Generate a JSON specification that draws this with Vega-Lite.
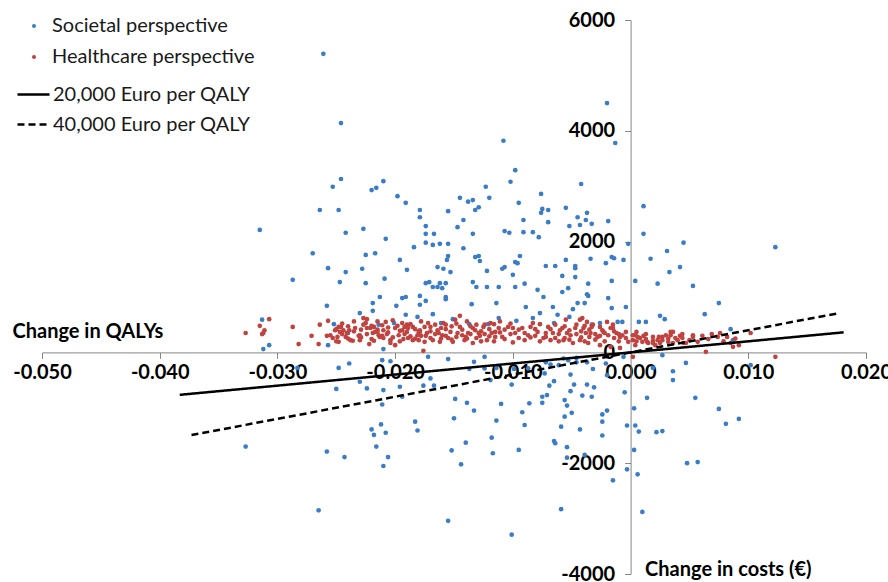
{
"$schema": "https://vega.github.io/schema/vega-lite/v6.json",
"width": 824, "height": 554,
"autosize": {"type": "none"},
"padding": {"left": 42, "top": 20, "right": 22, "bottom": 8},
"background": "white",
"config": {"view": {"stroke": null}, "font": "Lato",
 "locale": {"number": {"decimal": ".", "thousands": ",", "grouping": [3], "currency": ["", ""], "minus": "-"}}},
"datasets": {
"societal": [
{"qaly":-0.0261,"cost":5390},{"qaly":-0.0020,"cost":4500},{"qaly":-0.0013,"cost":3780},{"qaly":-0.0246,"cost":4140},{"qaly":-0.0108,"cost":3820},{"qaly":-0.0098,"cost":3290},{"qaly":-0.0246,"cost":3130},{"qaly":-0.0253,"cost":2990},{"qaly":-0.0210,"cost":3090},{"qaly":-0.0220,"cost":2930},{"qaly":-0.0216,"cost":2970},{"qaly":-0.0198,"cost":2820},{"qaly":-0.0191,"cost":2700},{"qaly":-0.0264,"cost":2570},{"qaly":-0.0248,"cost":2570},{"qaly":-0.0179,"cost":2570},{"qaly":-0.0179,"cost":2440},{"qaly":-0.0155,"cost":2550},{"qaly":-0.0315,"cost":2210},{"qaly":-0.0242,"cost":2160},{"qaly":-0.0227,"cost":2230},{"qaly":-0.0174,"cost":2280},{"qaly":-0.0174,"cost":2140},{"qaly":-0.0167,"cost":2140},{"qaly":-0.0208,"cost":2050},{"qaly":-0.0174,"cost":1980},{"qaly":-0.0168,"cost":1940},{"qaly":-0.0162,"cost":1960},{"qaly":-0.0155,"cost":1960},{"qaly":-0.0270,"cost":1790},{"qaly":-0.0225,"cost":1760},{"qaly":-0.0217,"cost":1790},{"qaly":-0.0184,"cost":1900},{"qaly":-0.0196,"cost":1670},{"qaly":-0.0155,"cost":1740},{"qaly":-0.0156,"cost":1670},{"qaly":-0.0257,"cost":1520},{"qaly":-0.0242,"cost":1450},{"qaly":-0.0228,"cost":1510},{"qaly":-0.0190,"cost":1490},{"qaly":-0.0164,"cost":1540},{"qaly":-0.0159,"cost":1510},{"qaly":-0.0287,"cost":1310},{"qaly":-0.0247,"cost":1270},{"qaly":-0.0225,"cost":1250},{"qaly":-0.0209,"cost":1330},{"qaly":-0.0174,"cost":1250},{"qaly":-0.0171,"cost":1270},{"qaly":-0.0168,"cost":1180},{"qaly":-0.0164,"cost":1180},{"qaly":-0.0162,"cost":1250},{"qaly":-0.0157,"cost":1250},{"qaly":-0.0160,"cost":1160},{"qaly":-0.0213,"cost":1000},{"qaly":-0.0194,"cost":980},{"qaly":-0.0179,"cost":1020},{"qaly":-0.0179,"cost":860},{"qaly":-0.0174,"cost":930},{"qaly":-0.0157,"cost":960},{"qaly":-0.0258,"cost":840},{"qaly":-0.0219,"cost":890},{"qaly":-0.0199,"cost":840},{"qaly":-0.0219,"cost":750},{"qaly":-0.0230,"cost":710},{"qaly":-0.0191,"cost":680},{"qaly":-0.0181,"cost":640},{"qaly":-0.0168,"cost":690},{"qaly":-0.0313,"cost":590},{"qaly":-0.0252,"cost":510},{"qaly":-0.0201,"cost":530},{"qaly":-0.0214,"cost":500},{"qaly":-0.0161,"cost":530},{"qaly":-0.0307,"cost":130},{"qaly":-0.0312,"cost":60},
{"qaly":-0.0102,"cost":3080},{"qaly":-0.0123,"cost":2990},{"qaly":-0.0120,"cost":2790},{"qaly":-0.0042,"cost":3040},{"qaly":-0.0145,"cost":2790},{"qaly":-0.0134,"cost":2750},{"qaly":-0.0138,"cost":2720},{"qaly":-0.0076,"cost":2860},{"qaly":-0.0095,"cost":2700},{"qaly":-0.0129,"cost":2620},{"qaly":-0.0132,"cost":2570},{"qaly":-0.0075,"cost":2590},{"qaly":-0.0076,"cost":2520},{"qaly":-0.0070,"cost":2570},{"qaly":-0.0055,"cost":2610},{"qaly":-0.0037,"cost":2520},{"qaly":-0.0045,"cost":2440},{"qaly":-0.0038,"cost":2390},{"qaly":-0.0043,"cost":2300},{"qaly":-0.0033,"cost":2320},{"qaly":-0.0019,"cost":2370},{"qaly":-0.0142,"cost":2390},{"qaly":-0.0147,"cost":2260},{"qaly":-0.0070,"cost":2350},{"qaly":-0.0091,"cost":2390},{"qaly":-0.0107,"cost":2190},{"qaly":-0.0103,"cost":2160},{"qaly":-0.0091,"cost":2170},{"qaly":-0.0083,"cost":2170},{"qaly":-0.0078,"cost":2080},{"qaly":-0.0052,"cost":2280},{"qaly":-0.0134,"cost":2140},{"qaly":-0.0142,"cost":1880},{"qaly":-0.0122,"cost":1470},{"qaly":-0.0153,"cost":1450},{"qaly":-0.0132,"cost":1720},{"qaly":-0.0129,"cost":1740},{"qaly":-0.0128,"cost":1650},{"qaly":-0.0109,"cost":1510},{"qaly":-0.0107,"cost":1540},{"qaly":-0.0098,"cost":1630},{"qaly":-0.0096,"cost":1610},{"qaly":-0.0094,"cost":1740},{"qaly":-0.0100,"cost":1400},{"qaly":-0.0072,"cost":1560},{"qaly":-0.0064,"cost":1560},{"qaly":-0.0055,"cost":1670},{"qaly":-0.0047,"cost":1560},{"qaly":-0.0034,"cost":1690},{"qaly":-0.0021,"cost":1610},{"qaly":-0.0016,"cost":1720},{"qaly":-0.0014,"cost":1700},{"qaly":-0.0006,"cost":1670},{"qaly":-0.0002,"cost":1960},{"qaly":0.0011,"cost":2140},{"qaly":0.0017,"cost":1690},{"qaly":0.0031,"cost":1830},{"qaly":0.0033,"cost":1450},{"qaly":0.0042,"cost":1540},{"qaly":0.0045,"cost":1980},{"qaly":0.0053,"cost":1200},{"qaly":0.0004,"cost":1290},{"qaly":0.0023,"cost":1240},{"qaly":-0.0134,"cost":1270},{"qaly":-0.0131,"cost":1180},{"qaly":-0.0122,"cost":1180},{"qaly":-0.0112,"cost":1180},{"qaly":-0.0098,"cost":1180},{"qaly":-0.0090,"cost":1240},{"qaly":-0.0079,"cost":1130},{"qaly":-0.0058,"cost":1380},{"qaly":-0.0036,"cost":1240},{"qaly":-0.0016,"cost":1290},{"qaly":-0.0036,"cost":1020},{"qaly":-0.0074,"cost":1000},{"qaly":-0.0019,"cost":980},{"qaly":-0.0058,"cost":1090},{"qaly":-0.0053,"cost":1160},{"qaly":-0.0066,"cost":820},{"qaly":-0.0045,"cost":890},{"qaly":-0.0114,"cost":890},{"qaly":-0.0089,"cost":820},{"qaly":-0.0077,"cost":710},{"qaly":-0.0062,"cost":680},{"qaly":-0.0052,"cost":640},{"qaly":-0.0016,"cost":800},{"qaly":-0.0004,"cost":820},{"qaly":-0.0011,"cost":550},{"qaly":-0.0007,"cost":550},{"qaly":-0.0026,"cost":530},{"qaly":-0.0033,"cost":500},{"qaly":0.0007,"cost":550},{"qaly":0.0013,"cost":550},{"qaly":0.0025,"cost":660},{"qaly":0.0029,"cost":600},{"qaly":-0.0135,"cost":870},{"qaly":-0.0157,"cost":1000},{"qaly":-0.0191,"cost":1000},{"qaly":-0.0151,"cost":600},{"qaly":-0.0112,"cost":620},{"qaly":-0.0097,"cost":570},{"qaly":-0.0083,"cost":620},{"qaly":-0.0065,"cost":530},{"qaly":0.0011,"cost":2640},{"qaly":-0.0047,"cost":1360},{"qaly":-0.0039,"cost":890},{"qaly":-0.0049,"cost":780},{"qaly":0.0063,"cost":690},{"qaly":0.0075,"cost":890},{"qaly":0.0085,"cost":420},{"qaly":0.0087,"cost":220},{"qaly":0.0123,"cost":1900},{"qaly":-0.0240,"cost":350},{"qaly":-0.0137,"cost":510},{"qaly":-0.0121,"cost":510},{"qaly":-0.0210,"cost":60},{"qaly":-0.0257,"cost":130},{"qaly":-0.0047,"cost":1520},{"qaly":-0.0037,"cost":1050},
{"qaly":-0.0283,"cost":-280},{"qaly":-0.0248,"cost":-280},{"qaly":-0.0239,"cost":-200},{"qaly":-0.0211,"cost":-140},{"qaly":-0.0204,"cost":-160},{"qaly":-0.0172,"cost":-80},{"qaly":-0.0155,"cost":-120},{"qaly":-0.0133,"cost":-170},{"qaly":-0.0124,"cost":-80},{"qaly":-0.0137,"cost":-300},{"qaly":-0.0124,"cost":-290},{"qaly":-0.0114,"cost":-280},{"qaly":-0.0099,"cost":-300},{"qaly":-0.0087,"cost":-290},{"qaly":-0.0072,"cost":-180},{"qaly":-0.0068,"cost":-220},{"qaly":-0.0073,"cost":-380},{"qaly":-0.0061,"cost":-230},{"qaly":-0.0053,"cost":-140},{"qaly":-0.0046,"cost":-180},{"qaly":-0.0037,"cost":-180},{"qaly":-0.0032,"cost":-300},{"qaly":-0.0021,"cost":-200},{"qaly":-0.0020,"cost":-410},{"qaly":-0.0006,"cost":-80},{"qaly":-0.0250,"cost":-660},{"qaly":-0.0230,"cost":-530},{"qaly":-0.0224,"cost":-650},{"qaly":-0.0210,"cost":-680},{"qaly":-0.0211,"cost":-940},{"qaly":-0.0196,"cost":-620},{"qaly":-0.0194,"cost":-800},{"qaly":-0.0176,"cost":-600},{"qaly":-0.0170,"cost":-470},{"qaly":-0.0167,"cost":-600},{"qaly":-0.0119,"cost":-500},{"qaly":-0.0101,"cost":-580},{"qaly":-0.0069,"cost":-600},{"qaly":-0.0065,"cost":-520},{"qaly":-0.0051,"cost":-400},{"qaly":-0.0048,"cost":-580},{"qaly":-0.0051,"cost":-700},{"qaly":-0.0037,"cost":-580},{"qaly":-0.0031,"cost":-630},{"qaly":-0.0041,"cost":-780},{"qaly":-0.0033,"cost":-800},{"qaly":-0.0075,"cost":-800},{"qaly":-0.0071,"cost":-770},{"qaly":-0.0075,"cost":-910},{"qaly":-0.0086,"cost":-920},{"qaly":-0.0056,"cost":-860},{"qaly":-0.0054,"cost":-960},{"qaly":-0.0050,"cost":-1090},{"qaly":-0.0056,"cost":-1160},{"qaly":-0.0059,"cost":-1340},{"qaly":-0.0043,"cost":-1390},{"qaly":-0.0092,"cost":-1080},{"qaly":-0.0090,"cost":-1310},{"qaly":-0.0110,"cost":-930},{"qaly":-0.0114,"cost":-1230},{"qaly":-0.0118,"cost":-1540},{"qaly":-0.0117,"cost":-1820},{"qaly":-0.0095,"cost":-1760},{"qaly":-0.0149,"cost":-840},{"qaly":-0.0139,"cost":-910},{"qaly":-0.0133,"cost":-1050},{"qaly":-0.0150,"cost":-1190},{"qaly":-0.0140,"cost":-1630},{"qaly":-0.0152,"cost":-1770},{"qaly":-0.0144,"cost":-2020},{"qaly":-0.0183,"cost":-1250},{"qaly":-0.0181,"cost":-1410},{"qaly":-0.0220,"cost":-1390},{"qaly":-0.0212,"cost":-1300},{"qaly":-0.0218,"cost":-1490},{"qaly":-0.0208,"cost":-1450},{"qaly":-0.0216,"cost":-1700},{"qaly":-0.0206,"cost":-1890},{"qaly":-0.0210,"cost":-2050},{"qaly":-0.0258,"cost":-1790},{"qaly":-0.0243,"cost":-1890},{"qaly":-0.0327,"cost":-1700},{"qaly":-0.0265,"cost":-2850},{"qaly":-0.0155,"cost":-3040},{"qaly":-0.0101,"cost":-3290},{"qaly":-0.0059,"cost":-2830},{"qaly":-0.0065,"cost":-1600},{"qaly":-0.0064,"cost":-1640},{"qaly":-0.0054,"cost":-1710},{"qaly":-0.0054,"cost":-1900},{"qaly":-0.0039,"cost":-1850},{"qaly":-0.0024,"cost":-1120},{"qaly":-0.0020,"cost":-1050},{"qaly":-0.0024,"cost":-1250},{"qaly":-0.0024,"cost":-1500},{"qaly":-0.0015,"cost":-2310},{"qaly":-0.0003,"cost":-1320},{"qaly":-0.0005,"cost":-720},{"qaly":-0.0003,"cost":-2110},{"qaly":0.0003,"cost":-1010},{"qaly":0.0004,"cost":-1320},{"qaly":0.0007,"cost":-1430},{"qaly":0.0003,"cost":-1760},{"qaly":0.0006,"cost":-2200},{"qaly":-0.0057,"cost":-110},{"qaly":-0.0046,"cost":-100},
{"qaly":0.0022,"cost":-1440},{"qaly":0.0027,"cost":-1420},{"qaly":0.0010,"cost":-2880},{"qaly":0.0027,"cost":-50},{"qaly":0.0047,"cost":-190},{"qaly":0.0019,"cost":-280},{"qaly":0.0036,"cost":-340},{"qaly":0.0036,"cost":-500},{"qaly":0.0102,"cost":-230},{"qaly":0.0014,"cost":-820},{"qaly":0.0055,"cost":-820},{"qaly":0.0075,"cost":-1020},{"qaly":0.0092,"cost":-1200},{"qaly":0.0081,"cost":-1290},{"qaly":0.0048,"cost":-2000},{"qaly":0.0057,"cost":-1980}
],
"healthcare": [
{"qaly":-0.0327,"cost":350},{"qaly":-0.0315,"cost":480},{"qaly":-0.0312,"cost":350},{"qaly":-0.0311,"cost":400},{"qaly":-0.0307,"cost":600},{"qaly":-0.0313,"cost":330},{"qaly":-0.0287,"cost":460},{"qaly":-0.0282,"cost":150},{"qaly":-0.0271,"cost":300},{"qaly":-0.0265,"cost":150},{"qaly":-0.0264,"cost":500},{"qaly":-0.0258,"cost":300},{"qaly":-0.0257,"cost":570},{"qaly":-0.0255,"cost":310},{"qaly":-0.0253,"cost":260},{"qaly":-0.0251,"cost":400},{"qaly":-0.0249,"cost":280},{"qaly":-0.0248,"cost":460},{"qaly":-0.0247,"cost":370},{"qaly":-0.0248,"cost":190},{"qaly":-0.0246,"cost":460},{"qaly":-0.0244,"cost":400},{"qaly":-0.0242,"cost":280},{"qaly":-0.0241,"cost":350},{"qaly":-0.0239,"cost":400},{"qaly":-0.0238,"cost":220},{"qaly":-0.0236,"cost":210},{"qaly":-0.0231,"cost":300},{"qaly":-0.0230,"cost":220},{"qaly":-0.0230,"cost":310},{"qaly":-0.0234,"cost":440},{"qaly":-0.0227,"cost":620},{"qaly":-0.0227,"cost":500},{"qaly":-0.0225,"cost":530},{"qaly":-0.0224,"cost":440},{"qaly":-0.0221,"cost":440},{"qaly":-0.0219,"cost":350},{"qaly":-0.0218,"cost":460},{"qaly":-0.0218,"cost":210},{"qaly":-0.0217,"cost":370},{"qaly":-0.0215,"cost":370},{"qaly":-0.0214,"cost":310},{"qaly":-0.0213,"cost":280},{"qaly":-0.0222,"cost":150},{"qaly":-0.0210,"cost":400},{"qaly":-0.0210,"cost":260},{"qaly":-0.0207,"cost":330},{"qaly":-0.0204,"cost":220},{"qaly":-0.0204,"cost":170},{"qaly":-0.0200,"cost":440},{"qaly":-0.0200,"cost":130},{"qaly":-0.0198,"cost":480},{"qaly":-0.0197,"cost":310},{"qaly":-0.0208,"cost":550},{"qaly":-0.0194,"cost":400},{"qaly":-0.0194,"cost":530},{"qaly":-0.0193,"cost":240},{"qaly":-0.0190,"cost":500},{"qaly":-0.0190,"cost":370},{"qaly":-0.0189,"cost":440},{"qaly":-0.0189,"cost":260},{"qaly":-0.0185,"cost":220},{"qaly":-0.0185,"cost":460},{"qaly":-0.0181,"cost":310},{"qaly":-0.0180,"cost":370},{"qaly":-0.0180,"cost":220},{"qaly":-0.0179,"cost":400},{"qaly":-0.0176,"cost":30},{"qaly":-0.0174,"cost":300},{"qaly":-0.0172,"cost":530},{"qaly":-0.0173,"cost":350},{"qaly":-0.0170,"cost":460},{"qaly":-0.0168,"cost":220},{"qaly":-0.0164,"cost":400},{"qaly":-0.0162,"cost":190},{"qaly":-0.0160,"cost":310},{"qaly":-0.0159,"cost":530},{"qaly":-0.0157,"cost":500},{"qaly":-0.0155,"cost":260},{"qaly":-0.0153,"cost":370},{"qaly":-0.0151,"cost":190},{"qaly":-0.0149,"cost":590},{"qaly":-0.0147,"cost":350},{"qaly":-0.0145,"cost":460},{"qaly":-0.0145,"cost":660},{"qaly":-0.0141,"cost":220},{"qaly":-0.0138,"cost":350},{"qaly":-0.0134,"cost":170},{"qaly":-0.0134,"cost":440},{"qaly":-0.0132,"cost":400},{"qaly":-0.0129,"cost":350},{"qaly":-0.0128,"cost":300},{"qaly":-0.0125,"cost":460},{"qaly":-0.0122,"cost":220},{"qaly":-0.0119,"cost":530},{"qaly":-0.0118,"cost":350},{"qaly":-0.0115,"cost":280},{"qaly":-0.0112,"cost":440},{"qaly":-0.0109,"cost":280},{"qaly":-0.0104,"cost":460},{"qaly":-0.0098,"cost":350},{"qaly":-0.0092,"cost":440},{"qaly":-0.0087,"cost":310},{"qaly":-0.0083,"cost":530},{"qaly":-0.0079,"cost":370},{"qaly":-0.0074,"cost":260},{"qaly":-0.0070,"cost":460},{"qaly":-0.0066,"cost":350},{"qaly":-0.0060,"cost":400},{"qaly":-0.0058,"cost":440},{"qaly":-0.0055,"cost":590},{"qaly":-0.0054,"cost":350},{"qaly":-0.0051,"cost":310},{"qaly":-0.0049,"cost":170},{"qaly":-0.0047,"cost":440},{"qaly":-0.0043,"cost":590},{"qaly":-0.0043,"cost":220},{"qaly":-0.0041,"cost":620},{"qaly":-0.0040,"cost":440},{"qaly":-0.0038,"cost":350},{"qaly":-0.0037,"cost":550},{"qaly":-0.0036,"cost":170},{"qaly":-0.0034,"cost":350},{"qaly":-0.0033,"cost":460},{"qaly":-0.0028,"cost":280},{"qaly":-0.0026,"cost":130},{"qaly":-0.0024,"cost":400},{"qaly":-0.0020,"cost":550},{"qaly":-0.0019,"cost":310},{"qaly":-0.0017,"cost":440},{"qaly":-0.0017,"cost":100},{"qaly":-0.0015,"cost":500},{"qaly":-0.0012,"cost":350},{"qaly":-0.0009,"cost":280},{"qaly":-0.0009,"cost":80},{"qaly":-0.0007,"cost":310},{"qaly":-0.0004,"cost":260},{"qaly":-0.0002,"cost":190},{"qaly":0.0002,"cost":220},{"qaly":0.0002,"cost":-80},{"qaly":0.0004,"cost":310},{"qaly":0.0004,"cost":130},{"qaly":0.0006,"cost":280},{"qaly":0.0008,"cost":260},{"qaly":0.0011,"cost":300},{"qaly":0.0014,"cost":190},{"qaly":0.0019,"cost":280},{"qaly":0.0021,"cost":130},{"qaly":0.0024,"cost":280},{"qaly":0.0027,"cost":220},{"qaly":0.0030,"cost":310},{"qaly":0.0034,"cost":370},{"qaly":0.0036,"cost":170},{"qaly":0.0040,"cost":220},{"qaly":0.0042,"cost":300},{"qaly":0.0047,"cost":170},{"qaly":0.0053,"cost":310},{"qaly":0.0057,"cost":190},{"qaly":0.0061,"cost":300},{"qaly":0.0064,"cost":10},{"qaly":0.0066,"cost":240},{"qaly":0.0074,"cost":280},{"qaly":0.0076,"cost":350},{"qaly":0.0082,"cost":280},{"qaly":0.0085,"cost":170},{"qaly":0.0087,"cost":100},{"qaly":0.0092,"cost":130},{"qaly":0.0102,"cost":350},{"qaly":0.0123,"cost":-80},
{"qaly":-0.0179,"cost":370},{"qaly":-0.0163,"cost":350},{"qaly":-0.0140,"cost":280},{"qaly":-0.0115,"cost":370},{"qaly":-0.0015,"cost":440},{"qaly":-0.0004,"cost":370},{"qaly":0.0002,"cost":310},{"qaly":0.0025,"cost":170},{"qaly":0.0036,"cost":370},{"qaly":0.0045,"cost":170},{"qaly":0.0053,"cost":280},{"qaly":-0.0032,"cost":500},{"qaly":-0.0023,"cost":370},{"qaly":-0.0057,"cost":220},{"qaly":0.0010,"cost":190},{"qaly":0.0015,"cost":170},{"qaly":0.0023,"cost":220},{"qaly":0.0027,"cost":280},{"qaly":0.0034,"cost":310},{"qaly":0.0038,"cost":260},
{"qaly":-0.0250,"cost":420},{"qaly":-0.0250,"cost":200},{"qaly":-0.0245,"cost":330},{"qaly":-0.0245,"cost":520},{"qaly":-0.0240,"cost":470},{"qaly":-0.0240,"cost":250},{"qaly":-0.0235,"cost":380},{"qaly":-0.0235,"cost":560},{"qaly":-0.0229,"cost":270},{"qaly":-0.0229,"cost":410},{"qaly":-0.0224,"cost":330},{"qaly":-0.0224,"cost":600},{"qaly":-0.0220,"cost":480},{"qaly":-0.0220,"cost":240},{"qaly":-0.0215,"cost":410},{"qaly":-0.0215,"cost":560},{"qaly":-0.0211,"cost":300},{"qaly":-0.0211,"cost":490},{"qaly":-0.0206,"cost":450},{"qaly":-0.0206,"cost":360},{"qaly":-0.0202,"cost":270},{"qaly":-0.0202,"cost":580},{"qaly":-0.0196,"cost":390},{"qaly":-0.0196,"cost":200},{"qaly":-0.0192,"cost":330},{"qaly":-0.0192,"cost":460},{"qaly":-0.0187,"cost":510},{"qaly":-0.0187,"cost":290},{"qaly":-0.0183,"cost":420},{"qaly":-0.0183,"cost":250},{"qaly":-0.0178,"cost":300},{"qaly":-0.0178,"cost":560},{"qaly":-0.0175,"cost":460},{"qaly":-0.0175,"cost":190},{"qaly":-0.0170,"cost":380},{"qaly":-0.0170,"cost":260},{"qaly":-0.0166,"cost":330},{"qaly":-0.0166,"cost":500},{"qaly":-0.0161,"cost":440},{"qaly":-0.0161,"cost":250},{"qaly":-0.0157,"cost":300},{"qaly":-0.0157,"cost":420},{"qaly":-0.0152,"cost":470},{"qaly":-0.0152,"cost":230},{"qaly":-0.0148,"cost":280},{"qaly":-0.0148,"cost":520},{"qaly":-0.0143,"cost":410},{"qaly":-0.0143,"cost":310},{"qaly":-0.0139,"cost":250},{"qaly":-0.0139,"cost":560},{"qaly":-0.0136,"cost":470},{"qaly":-0.0136,"cost":330},{"qaly":-0.0131,"cost":260},{"qaly":-0.0131,"cost":500},{"qaly":-0.0127,"cost":380},{"qaly":-0.0127,"cost":200},{"qaly":-0.0124,"cost":500},{"qaly":-0.0124,"cost":330},{"qaly":-0.0120,"cost":290},{"qaly":-0.0120,"cost":420},{"qaly":-0.0116,"cost":510},{"qaly":-0.0116,"cost":200},{"qaly":-0.0111,"cost":360},{"qaly":-0.0111,"cost":560},{"qaly":-0.0107,"cost":240},{"qaly":-0.0107,"cost":410},{"qaly":-0.0102,"cost":330},{"qaly":-0.0102,"cost":520},{"qaly":-0.0100,"cost":180},{"qaly":-0.0100,"cost":440},{"qaly":-0.0095,"cost":410},{"qaly":-0.0095,"cost":260},{"qaly":-0.0090,"cost":220},{"qaly":-0.0090,"cost":350},{"qaly":-0.0085,"cost":460},{"qaly":-0.0085,"cost":270},{"qaly":-0.0081,"cost":300},{"qaly":-0.0081,"cost":420},{"qaly":-0.0077,"cost":510},{"qaly":-0.0077,"cost":200},{"qaly":-0.0072,"cost":350},{"qaly":-0.0072,"cost":280},{"qaly":-0.0068,"cost":420},{"qaly":-0.0068,"cost":220},{"qaly":-0.0064,"cost":260},{"qaly":-0.0064,"cost":500},{"qaly":-0.0061,"cost":330},{"qaly":-0.0061,"cost":200},{"qaly":-0.0056,"cost":260},{"qaly":-0.0056,"cost":470},{"qaly":-0.0052,"cost":400},{"qaly":-0.0052,"cost":230},{"qaly":-0.0046,"cost":330},{"qaly":-0.0046,"cost":500},{"qaly":-0.0042,"cost":270},{"qaly":-0.0042,"cost":380},{"qaly":-0.0039,"cost":200},{"qaly":-0.0039,"cost":480},{"qaly":-0.0035,"cost":410},{"qaly":-0.0035,"cost":280},{"qaly":-0.0030,"cost":330},{"qaly":-0.0030,"cost":230},{"qaly":-0.0026,"cost":460},{"qaly":-0.0026,"cost":300},{"qaly":-0.0022,"cost":200},{"qaly":-0.0022,"cost":350},{"qaly":-0.0014,"cost":260},{"qaly":-0.0014,"cost":380},{"qaly":-0.0010,"cost":200},{"qaly":-0.0010,"cost":330},{"qaly":0.0005,"cost":200},{"qaly":0.0005,"cost":370},{"qaly":0.0013,"cost":240},{"qaly":0.0013,"cost":330},{"qaly":0.0019,"cost":210},{"qaly":0.0019,"cost":170},{"qaly":0.0032,"cost":250},{"qaly":0.0032,"cost":190},{"qaly":0.0044,"cost":260},{"qaly":0.0044,"cost":330},{"qaly":0.0050,"cost":220},{"qaly":0.0069,"cost":330},{"qaly":0.0079,"cost":200},{"qaly":0.0089,"cost":250}
],
"thresholds": [
{"threshold":"20,000 Euro per QALY","qaly":-0.0383,"cost":-766},{"threshold":"20,000 Euro per QALY","qaly":0.0181,"cost":362},
{"threshold":"40,000 Euro per QALY","qaly":-0.0373,"cost":-1492},{"threshold":"40,000 Euro per QALY","qaly":0.0176,"cost":704}
]
},
"layer": [
{"data": {"name": "societal"},
 "mark": {"type": "circle", "size": 22, "opacity": 1},
 "encoding": {
  "x": {"field": "qaly", "type": "quantitative", "scale": {"domain": [-0.05, 0.02], "nice": false, "zero": false},
   "axis": {"title": "Change in QALYs", "values": [-0.05,-0.04,-0.03,-0.02,-0.01,0,0.01,0.02], "format": ".3f", "offset": -221.6, "grid": false,
    "domainColor": "#868686", "tickColor": "#868686", "tickSize": 6, "labelFont": "Lato", "labelFontWeight": "bold", "labelFontSize": 20, "labelColor": "black", "labelPadding": 4, "labelFlush": false, "labelOverlap": false,
    "titleFont": "Lato", "titleFontWeight": "bold", "titleFontSize": 20, "titleColor": "black", "titleX": -30, "titleY": -15, "titleAlign": "left", "titleBaseline": "alphabetic", "titleAnchor": "start"}},
  "y": {"field": "cost", "type": "quantitative", "scale": {"domain": [-4000, 6000], "nice": false},
   "axis": {"title": "Change in costs (€)", "values": [-4000,-2000,0,2000,4000,6000], "format": "d", "offset": -588.6, "grid": false,
    "domainColor": "#868686", "tickColor": "#868686", "tickSize": 6, "labelFont": "Lato", "labelFontWeight": "bold", "labelFontSize": 20, "labelColor": "black", "labelPadding": 10, "labelFlush": false, "labelOverlap": false,
    "titleFont": "Lato", "titleFontWeight": "bold", "titleFontSize": 20, "titleColor": "black", "titleAngle": 0, "titleX": 14, "titleY": 555, "titleAlign": "left", "titleBaseline": "alphabetic"}},
  "color": {"datum": "Societal perspective", "type": "nominal",
   "scale": {"domain": ["Societal perspective", "Healthcare perspective"], "range": ["#3A7CC5", "#C0433F"]},
   "legend": {"orient": "none", "legendX": -18, "legendY": -4, "title": null, "symbolType": "circle", "symbolSize": 16, "symbolStrokeWidth": 0, "labelFont": "Lato", "labelFontSize": 20, "labelColor": "#1a1a1a", "labelOffset": 8, "labelLimit": 400, "rowPadding": 11, "padding": 0}}
 }},
{"data": {"name": "healthcare"},
 "mark": {"type": "circle", "size": 22, "opacity": 1},
 "encoding": {
  "x": {"field": "qaly", "type": "quantitative"},
  "y": {"field": "cost", "type": "quantitative"},
  "color": {"datum": "Healthcare perspective", "type": "nominal"}
 }},
{"data": {"name": "thresholds"},
 "mark": {"type": "line", "color": "black", "strokeWidth": 2.5},
 "encoding": {
  "x": {"field": "qaly", "type": "quantitative"},
  "y": {"field": "cost", "type": "quantitative"},
  "strokeDash": {"field": "threshold", "type": "nominal",
   "scale": {"domain": ["20,000 Euro per QALY", "40,000 Euro per QALY"], "range": [[1,0],[7,4]]},
   "legend": {"orient": "none", "legendX": -26, "legendY": 57, "title": null, "symbolType": "stroke", "symbolSize": 1024, "symbolStrokeColor": "black", "symbolStrokeWidth": 2.5, "labelFont": "Lato", "labelFontSize": 20, "labelColor": "#1a1a1a", "labelOffset": 2, "labelLimit": 400, "rowPadding": 2, "padding": 0}}
 }}
]
}
